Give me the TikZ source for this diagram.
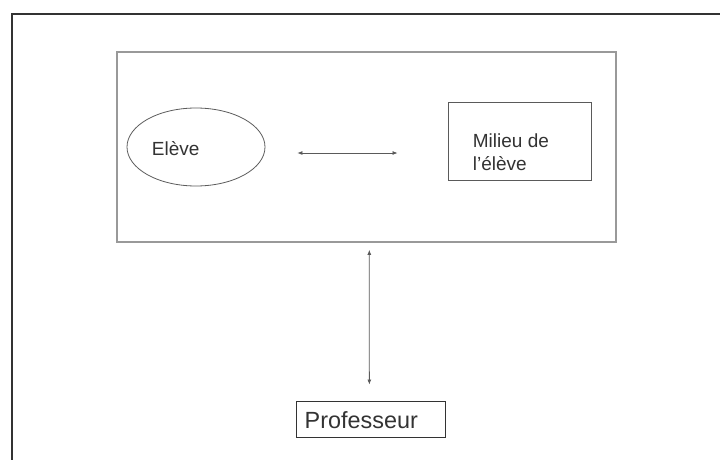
\documentclass[tikz,border=0pt]{standalone}
\usepackage{fontspec}
\setmainfont{Liberation Sans}
\usepackage{xcolor}
\usetikzlibrary{shapes.geometric,arrows.meta}
\definecolor{darkgrey}{HTML}{333333}
\definecolor{midgrey}{HTML}{5A5A5A}
\colorlet{lightgrey}{darkgrey!50!white}

\begin{document}
\begin{tikzpicture}[x=1pt, y=-1pt,
    fleche/.style={midgrey, line width=0.8pt, {Latex[length=5pt,width=4pt]}-{Latex[length=5pt,width=4pt]}},
    boite/.style={draw, rectangle, inner sep=0pt},
    texte/.style={darkgrey, inner sep=0pt, font=\fontsize{19}{23}\selectfont}]
    \useasboundingbox (0, 0) rectangle (720, 460);
    \fill[white] (0, 0) rectangle (720, 460);
    \draw[darkgrey, line width=2pt] (12, 460) -- (12, 14) -- (720, 14);
    \node[boite, lightgrey, line width=1.1pt, minimum width=499pt, minimum height=190pt] (cadre) at (366.5, 147) {};
    \node[draw=darkgrey!80, line width=0.8pt, ellipse, minimum width=138pt, minimum height=78pt, inner sep=0pt] (eleve) at (196, 147) {};
    \node[texte, anchor=base west] (eleve txt) at (151.7, 155) {Elève};
    \node[boite, midgrey, line width=0.9pt, minimum width=143.7pt, minimum height=77.3pt] (milieu) at (519.85, 141.35) {};
    \node[texte, anchor=base west, align=left] (milieu txt) at (472.7, 170) {Milieu de\\l’élève};
    \node[boite, draw=midgrey, line width=0.9pt, darkgrey, minimum height=36pt, text width=132.3pt, inner xsep=8pt, align=left,
        font=\fontsize{23.4}{28}\selectfont] (prof) at (370.85, 419.7) {Professeur};
    \draw[fleche] ([xshift=32pt, yshift=-6pt]eleve.east) -- ([xshift=-50pt, yshift=-11.65pt]milieu.west);
    \draw[fleche] ([xshift=-1.5pt, yshift=16.7pt]prof.north) -- ([xshift=2.8pt, yshift=-7.3pt]cadre.south);
\end{tikzpicture}
\end{document}
